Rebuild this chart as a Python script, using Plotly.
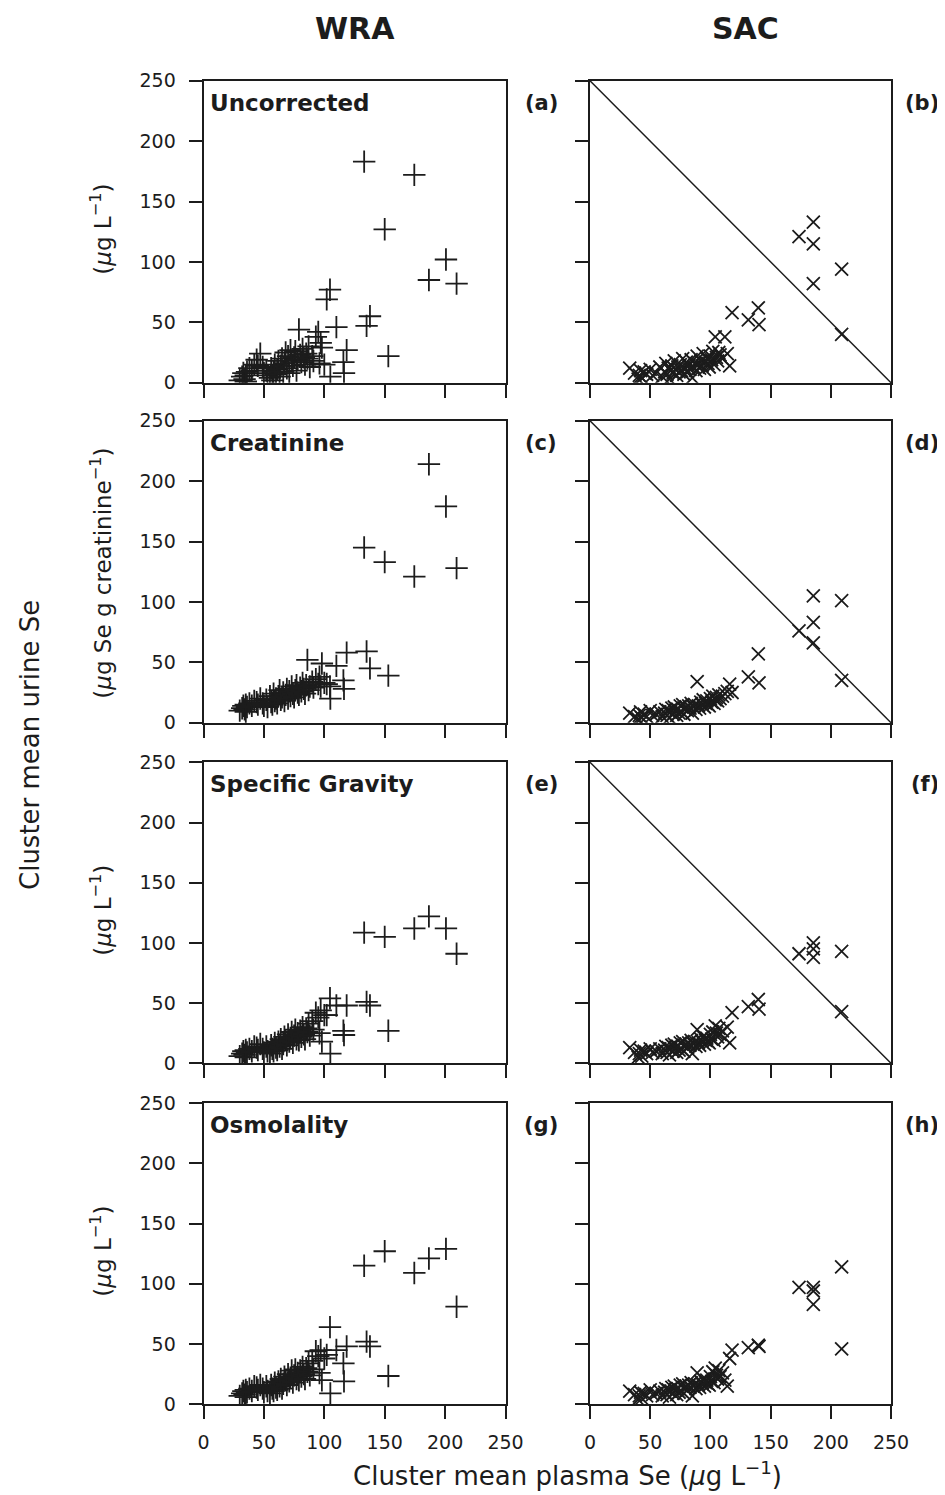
import plotly.graph_objects as go
from plotly.subplots import make_subplots

# ---------------- data ----------------
# WRA (women of reproductive age): cluster mean plasma Se (x) and cluster mean urine Se (y)
wra_x = [30, 32, 33, 34, 35, 35, 36, 38, 40, 42,
         44, 45, 47, 49, 50, 52, 53, 55, 56, 57,
         58, 59, 60, 61, 62, 63, 64, 65, 66, 67,
         68, 69, 70, 71, 72, 73, 74, 75, 76, 77,
         78, 79, 80, 81, 82, 83, 84, 85, 86, 87,
         88, 90, 91, 93, 95, 96, 97, 98, 100,
         102, 104.7, 105, 110, 115.8, 116.3, 118.5,
         133, 135, 137.8, 150, 153, 174.5, 186.6, 200.7, 209.5]

wra_uncorrected = [2, 5, 8, 3, 6, 1, 9, 12, 10, 15,
                   19, 14, 24, 13, 8, 10, 6, 4, 12, 2,
                   9, 15, 7, 11, 18, 5, 14, 20, 9, 16,
                   25, 12, 22, 8, 27, 18, 14, 21, 26, 10,
                   19, 44, 23, 17, 28, 21, 15, 24, 20, 30,
                   13, 22, 18, 38, 42, 16, 33, 29, 15,
                   69, 77, 5, 46, 17, 8, 27,
                   183, 47, 55, 127, 22, 172, 85, 102, 82]

wra_creatinine = [10, 12, 14, 11, 15, 9, 13, 16, 14, 18,
                  17, 15, 20, 16, 14, 19, 13, 22, 17, 15,
                  24, 18, 20, 16, 22, 27, 19, 21, 25, 18,
                  23, 28, 20, 26, 22, 30, 24, 21, 27, 31,
                  25, 23, 29, 26, 33, 28, 24, 31, 52, 27,
                  30, 34, 29, 36, 32, 38, 30, 49, 33,
                  32, 30, 20, 47, 35, 28, 58,
                  145, 59, 45, 133, 39, 121, 214, 179, 128]

wra_specific_gravity = [6, 8, 10, 7, 11, 5, 9, 12, 10, 14,
                        13, 11, 16, 12, 9, 14, 10, 8, 15, 12,
                        10, 17, 13, 11, 18, 14, 20, 12, 16, 22,
                        19, 15, 24, 18, 21, 26, 17, 23, 28, 20,
                        25, 19, 27, 22, 30, 24, 20, 29, 26, 33,
                        23, 35, 28, 42, 38, 25, 44, 18, 40,
                        40, 54, 8, 48, 27, 23.5, 48,
                        108.5, 51, 48, 105, 27, 112, 122, 112, 91]

wra_osmolality = [7, 9, 11, 8, 12, 6, 10, 13, 11, 15,
                  14, 12, 16, 13, 10, 15, 11, 9, 16, 13,
                  11, 18, 14, 12, 19, 15, 21, 13, 17, 23,
                  20, 16, 25, 19, 22, 28, 18, 24, 29, 21,
                  26, 20, 28, 23, 31, 25, 21, 30, 27, 34,
                  24, 36, 29, 44, 40, 26, 45, 20, 38,
                  41, 64, 9, 45, 34, 19, 48,
                  115, 52, 48, 127, 23.5, 109, 121, 129, 81]

# SAC (school-aged children)
sac_x = [33, 37, 40, 41, 42, 43, 45, 47, 50, 52,
         55, 58, 60, 62, 63, 64, 65, 66, 67, 68,
         69, 70, 71, 72, 73, 74, 75, 76, 77, 78,
         79, 80, 81, 82, 83, 84, 85, 86, 87, 88,
         89, 90, 91, 92, 93, 94, 95, 96, 97, 98,
         99, 100, 101, 102, 103, 104, 105, 106, 107, 108,
         110, 112, 114, 116, 118,
         131.5, 139.8, 140.4, 173.6, 185.5, 185.5, 185.5, 209, 209]

sac_uncorrected = [12, 8, 3, 6, 10, 4, 9, 7, 11, 6,
                   8, 13, 5, 9, 16, 7, 12, 3, 10, 14,
                   8, 18, 11, 6, 13, 9, 15, 10, 20, 7,
                   12, 17, 9, 14, 11, 19, 4, 13, 16, 10,
                   22, 15, 12, 18, 14, 24, 11, 17, 20, 16,
                   13, 22, 19, 26, 15, 38, 21, 18, 25, 23,
                   20, 38, 24, 14, 58,
                   52, 62, 48, 121, 133, 115, 82, 94, 40]

sac_creatinine = [8, 5, 3, 6, 9, 4, 7, 5, 10, 6,
                  7, 9, 5, 8, 11, 6, 10, 4, 9, 12,
                  7, 13, 10, 6, 11, 8, 14, 9, 15, 7,
                  11, 13, 10, 14, 12, 16, 8, 13, 15, 11,
                  34, 14, 12, 17, 15, 19, 13, 16, 18, 15,
                  14, 20, 17, 22, 16, 19, 21, 18, 23, 20,
                  22, 24, 26, 32, 25,
                  38, 57, 33, 76, 105, 66, 83, 101, 35]

sac_specific_gravity = [13, 9, 5, 8, 11, 6, 10, 8, 12, 9,
                        10, 12, 8, 11, 14, 9, 13, 7, 12, 15,
                        10, 16, 13, 9, 14, 11, 17, 12, 18, 10,
                        14, 16, 13, 17, 15, 19, 8, 16, 18, 14,
                        28, 17, 15, 20, 18, 22, 16, 19, 21, 18,
                        17, 24, 20, 26, 19, 31, 25, 22, 29, 24,
                        27, 21, 30, 17, 42,
                        47, 53, 45, 91, 100, 88, 95, 93, 43]

sac_osmolality = [11, 8, 4, 7, 10, 5, 9, 7, 12, 8,
                  9, 11, 7, 10, 13, 8, 12, 6, 11, 14,
                  9, 15, 12, 8, 13, 10, 16, 11, 17, 9,
                  13, 15, 12, 16, 14, 18, 7, 15, 17, 13,
                  26, 16, 14, 19, 17, 21, 15, 18, 20, 17,
                  16, 23, 19, 27, 18, 30, 24, 21, 28, 23,
                  26, 20, 15, 38, 45,
                  47, 49, 48, 97, 97, 83, 94, 114, 46]

row_titles = ["Uncorrected", "Creatinine", "Specific Gravity", "Osmolality"]
panel_letters = ["(a)", "(b)", "(c)", "(d)", "(e)", "(f)", "(g)", "(h)"]
row_units = ["(<i>μ</i>g L<sup>−1</sup>)", "(<i>μ</i>g Se g creatinine<sup>−1</sup>)",
             "(<i>μ</i>g L<sup>−1</sup>)", "(<i>μ</i>g L<sup>−1</sup>)"]
diag_rows = [0, 1, 2]  # rows whose SAC panel shows the 1:1 reference line
tick_vals = [0, 50, 100, 150, 200, 250]
tick_text = ["0", "50", "100", "150", "200", "250"]
axis_range = [0, 250]

wra_series = [wra_uncorrected, wra_creatinine, wra_specific_gravity, wra_osmolality]
sac_series = [sac_uncorrected, sac_creatinine, sac_specific_gravity, sac_osmolality]

# ---------------- figure ----------------
PAGE_OFF = 8                     # browser body margin
W, H = 945 - PAGE_OFF, 1495 - PAGE_OFF
FONT = "DejaVu Sans, Liberation Sans, Arial, sans-serif"
INK = "#1c1c1c"

def fx(px):
    return (px - PAGE_OFF) / W

def fy(py):
    return 1 - (py - PAGE_OFF) / H

col_px = [(203.5, 505.5), (590.0, 891.0)]
row_px = [(80.7, 382.7), (420.7, 722.7), (762.3, 1063.3), (1103.0, 1404.3)]

fig = make_subplots(rows=4, cols=2)

for r in range(4):
    for c in range(2):
        idx = r * 2 + c + 1
        xs = wra_x if c == 0 else sac_x
        ys = wra_series[r] if c == 0 else sac_series[r]
        fig.add_trace(go.Scatter(
            x=xs, y=ys, mode="markers", showlegend=False, hoverinfo="x+y",
            marker=dict(symbol="cross-thin" if c == 0 else "x-thin",
                        size=16 if c == 0 else 13,
                        color=INK, line=dict(color=INK, width=1.8)),
        ), row=r + 1, col=c + 1)

        xa = "xaxis" if idx == 1 else f"xaxis{idx}"
        ya = "yaxis" if idx == 1 else f"yaxis{idx}"
        common = dict(range=axis_range, tickvals=tick_vals, ticktext=tick_text,
                      showgrid=False, zeroline=False, showline=True, mirror=True,
                      automargin=False,
                      linecolor=INK, linewidth=1.8, ticks="outside", ticklen=13,
                      tickwidth=1.8, tickcolor=INK,
                      tickfont=dict(family=FONT, size=19, color=INK))
        fig.layout[xa].update(domain=[fx(col_px[c][0]), fx(col_px[c][1])],
                              showticklabels=(r == 3), ticklabelstandoff=7,
                              **common)
        fig.layout[ya].update(domain=[fy(row_px[r][1]), fy(row_px[r][0])],
                              showticklabels=(c == 0), ticklabelstandoff=9,
                              **common)

        if c == 1 and r in diag_rows:
            xr = "x" if idx == 1 else f"x{idx}"
            yr = "y" if idx == 1 else f"y{idx}"
            fig.add_shape(type="line", xref=f"{xr} domain", yref=f"{yr} domain",
                          x0=0, y0=1, x1=1, y1=0, line=dict(color=INK, width=1.5))

annotations = []

def note(text, x, y, size, xanchor="center", **kw):
    d = dict(text=text, x=fx(x), y=fy(y), xref="paper", yref="paper",
             xanchor=xanchor, yanchor="middle",
             showarrow=False, font=dict(family=FONT, size=size, color=INK))
    d.update(kw)
    annotations.append(d)

# column headers
note("<b>WRA</b>", 355, 28, 30)
note("<b>SAC</b>", 745, 28, 30)
for r in range(4):
    top = row_px[r][0]
    note(f"<b>{row_titles[r]}</b>", 208, top + 22, 23, xanchor="left")
    note(f"<b>{panel_letters[r * 2]}</b>", 541, top + 22, 21)
    note(f"<b>{panel_letters[r * 2 + 1]}</b>", 941, top + 22, 21, xanchor="right")
    mid = (row_px[r][0] + row_px[r][1]) / 2
    note(row_units[r], 101, mid - 2 if r != 1 else mid + 2, 23, textangle=-90)

note("Cluster mean urine Se", 30, 745, 26, textangle=-90)
note("Cluster mean plasma Se (<i>μ</i>g L<sup>−1</sup>)", 567, 1474, 26)

fig.update_layout(width=W, height=H, margin=dict(l=0, r=0, t=0, b=0),
                  paper_bgcolor="white", plot_bgcolor="white",
                  annotations=annotations, showlegend=False)

fig.write_html("out.html")
